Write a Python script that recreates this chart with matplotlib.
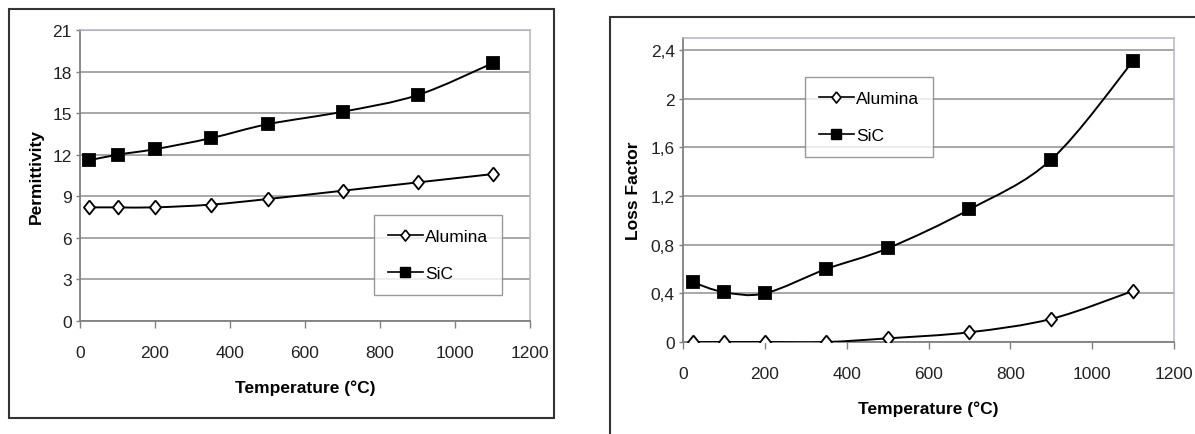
import numpy as np
import matplotlib
matplotlib.use("Agg")
import matplotlib.pyplot as plt
from matplotlib.path import Path
from matplotlib.patches import PathPatch, Rectangle
from matplotlib.lines import Line2D
from matplotlib.ticker import FuncFormatter

plt.rcParams['font.family'] = ['Liberation Sans', 'DejaVu Sans']

# data
temp = [25, 100, 200, 350, 500, 700, 900, 1100]
perm_alumina = [8.2, 8.2, 8.2, 8.4, 8.8, 9.4, 10.0, 10.6]
perm_sic = [11.6, 12.0, 12.4, 13.2, 14.2, 15.1, 16.3, 18.6]
loss_alumina = [0.0, 0.0, 0.0, 0.0, 0.03, 0.08, 0.19, 0.42]
loss_sic = [0.49, 0.41, 0.40, 0.60, 0.77, 1.09, 1.50, 2.31]

# diamond a bit narrower than tall, like the excel marker
DIAMOND = [(0, 1), (0.8, 0), (0, -1), (-0.8, 0), (0, 1)]


def smooth_path(xs, ys):
    # excel-like smoothed line: catmull-rom segments as cubic beziers
    p = np.column_stack([xs, ys]).astype(float)
    n = len(p)
    verts = [p[0]]
    codes = [Path.MOVETO]
    for i in range(n - 1):
        p0 = p[i - 1] if i > 0 else p[i]
        p3 = p[i + 2] if i + 2 < n else p[i + 1]
        c1 = p[i] + (p[i + 1] - p0) / 6.0
        c2 = p[i + 1] - (p3 - p[i]) / 6.0
        verts += [c1, c2, p[i + 1]]
        codes += [Path.CURVE4] * 3
    return Path(verts, codes)


def style_axes(ax):
    ax.grid(axis='y', color='#a0a0a0', lw=1.3)
    ax.set_axisbelow(True)
    for s in ['left', 'bottom']:
        ax.spines[s].set_color('#808080')
        ax.spines[s].set_linewidth(1.3)
    for s in ['top', 'right']:
        ax.spines[s].set_color('#b4b4cc')
        ax.spines[s].set_linewidth(1.1)
    ax.tick_params(axis='x', direction='out', length=5, width=1, color='#808080',
                   pad=12, labelsize=12.5, labelcolor='#222222')
    ax.tick_params(axis='y', direction='out', length=3, width=1, color='#808080',
                   pad=3, labelsize=12.5, labelcolor='#222222')
    ax.set_xlim(0, 1200)
    ax.set_xticks(range(0, 1201, 200))


def draw_series(ax, ys, marker, face, ms):
    ax.add_patch(PathPatch(smooth_path(temp, ys), fill=False, lw=1.4,
                           ec='black', zorder=3))
    ax.plot(temp, ys, ls='none', marker=marker, mfc=face, mec='black',
            ms=ms, mew=1.3, zorder=4)


def add_legend(ax, anchor):
    handles = [
        Line2D([], [], color='black', lw=1.2, marker=DIAMOND, mfc='white',
               mec='black', ms=8, mew=1.2, label='Alumina'),
        Line2D([], [], color='black', lw=1.2, marker='s', mfc='black',
               mec='black', ms=7.5, label='SiC'),
    ]
    leg = ax.legend(handles=handles, loc='upper left', bbox_to_anchor=anchor,
                    fontsize=12.5, frameon=True, fancybox=False,
                    handlelength=2.0, handletextpad=0.15, labelspacing=1.25,
                    borderpad=0.8, borderaxespad=0)
    leg.get_frame().set_edgecolor('#808080')
    leg.get_frame().set_linewidth(1.0)
    leg.set_zorder(5)
    return leg


fig = plt.figure(figsize=(11.95, 4.35), dpi=100)

# outer chart frames
fig.add_artist(Rectangle((9 / 1195, 1 - 419 / 435), 545 / 1195, 409 / 435,
                         transform=fig.transFigure, fill=False,
                         ec='#333333', lw=1.5))
fig.add_artist(Rectangle((610 / 1195, -0.05), 0.6, 1 - 18 / 435 + 0.05,
                         transform=fig.transFigure, fill=False,
                         ec='#333333', lw=1.5))

# left: permittivity
ax1 = fig.add_axes([80 / 1195, 1 - 322 / 435, 450 / 1195, 291 / 435])
style_axes(ax1)
ax1.set_ylim(0, 21)
ax1.set_yticks(range(0, 22, 3))
draw_series(ax1, perm_alumina, DIAMOND, 'white', 10)
draw_series(ax1, perm_sic, 's', 'black', 8.5)
ax1.set_xlabel('Temperature (°C)', fontsize=12.5, fontweight='bold', labelpad=14)
ax1.set_ylabel('Permittivity', fontsize=12.5, fontweight='bold', labelpad=6)
add_legend(ax1, ((374 - 80) / 450, (322 - 216) / 291))

# right: loss factor
ax2 = fig.add_axes([683 / 1195, 1 - 343 / 435, 491 / 1195, 304 / 435])
style_axes(ax2)
ax2.set_ylim(0, 2.5)
ax2.set_yticks([0, 0.4, 0.8, 1.2, 1.6, 2.0, 2.4])
ax2.yaxis.set_major_formatter(FuncFormatter(
    lambda v, p: ('%g' % round(v, 1)).replace('.', ',')))
draw_series(ax2, loss_alumina, DIAMOND, 'white', 10)
draw_series(ax2, loss_sic, 's', 'black', 8.5)
ax2.set_xlabel('Temperature (°C)', fontsize=12.5, fontweight='bold', labelpad=14)
ax2.set_ylabel('Loss Factor', fontsize=12.5, fontweight='bold', labelpad=7)
add_legend(ax2, ((805 - 683) / 491, (343 - 78) / 304))

fig.savefig('out.png', dpi=100)
